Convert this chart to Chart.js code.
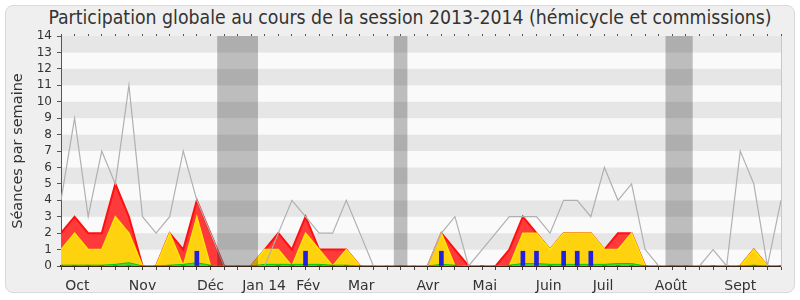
<!DOCTYPE html>
<html lang="fr">
<head>
<meta charset="utf-8">
<title>Participation globale 2013-2014</title>
<script src="https://cdn.jsdelivr.net/npm/chart.js@4.4.1/dist/chart.umd.min.js"></script>
<style>
  html, body { margin: 0; padding: 0; background: #fff; }
  #wrap { position: relative; width: 800px; height: 300px; overflow: hidden; }
  #cadre { position: absolute; left: 5px; top: 5px; width: 788px; height: 286px; border: 1px solid #d9d9d9; border-radius: 8px; background: #efefef; }
  #titre { position: absolute; left: 0; top: 7px; width: 820px; text-align: center; font-family: 'DejaVu Sans Condensed', 'DejaVu Sans', sans-serif; font-size: 19.3px; line-height: 22px; color: #333; white-space: nowrap; }
  canvas { position: absolute; left: 0; top: 0; }
</style>
</head>
<body>
<div id="wrap">
  <div id="cadre"></div>
  <div id="titre">Participation globale au cours de la session 2013-2014 (hémicycle et commissions)</div>
  <canvas id="graph" width="800" height="300"></canvas>
</div>
<script>
// Une valeur par semaine (54 semaines, d'octobre 2013 à septembre 2014)
const seancesTotal = [4, 9, 3, 7, 5, 11, 3, 2, 3, 7, 4, 2, 0, 0, 0, 0, 2, 4, 3, 2, 2, 4, 2, 0, 0, 0, 0, 0, 2, 3, 0, 1, 2, 3, 3, 3, 2, 4, 4, 3, 6, 4, 5, 1, 0, 0, 0, 0, 1, 0, 7, 5, 0, 4];
const presences = [2, 3, 2, 2, 5, 3, 0, 0, 2, 1, 4, 2, 0, 0, 0, 1, 2, 1, 3, 1, 1, 1, 0, 0, 0, 0, 0, 0, 2, 1, 0, 0, 0, 1, 3, 2, 1, 2, 2, 2, 1, 2, 2, 0, 0, 0, 0, 0, 0, 0, 0, 1, 0, 0];
const participations = [1, 2, 1, 1, 3, 2, 0, 0, 2, 0, 3, 0, 0, 0, 0, 1, 1, 0, 2, 1, 0, 1, 0, 0, 0, 0, 0, 0, 2, 0, 0, 0, 0, 0, 2, 2, 1, 2, 2, 2, 1, 1, 2, 0, 0, 0, 0, 0, 0, 0, 0, 1, 0, 0];
const interventions = [0.05, 0.05, 0.05, 0.05, 0.1, 0.2, 0, 0, 0.05, 0.1, 0.2, 0.05, 0, 0, 0, 0.1, 0.1, 0.1, 0.1, 0.1, 0.05, 0.05, 0, 0, 0, 0, 0, 0, 0.1, 0.05, 0, 0, 0, 0.05, 0.15, 0.15, 0.1, 0.1, 0.1, 0.1, 0.1, 0.15, 0.15, 0, 0, 0, 0, 0, 0, 0, 0, 0.05, 0, 0];
const questionsOrales = [0, 0, 0, 0, 0, 0, 0, 0, 0, 0, 0.9, 0, 0, 0, 0, 0, 0, 0, 0.9, 0, 0, 0, 0, 0, 0, 0, 0, 0, 0.9, 0, 0, 0, 0, 0, 0.9, 0.9, 0, 0.9, 0.9, 0.9, 0, 0, 0, 0, 0, 0, 0, 0, 0, 0, 0, 0, 0, 0];

// Vacances parlementaires (en semaines)
const vacances = [[11.5, 14.5], [24.5, 25.5], [44.5, 46.5]];

// Étiquettes des mois et leur position (en semaines)
const moisLabels = ['Oct', 'Nov', 'Déc', 'Jan 14', 'Fév', 'Mar', 'Avr', 'Mai', 'Juin', 'Juil', 'Août', 'Sept'];
const moisPos = [1.2, 6.0, 11.0, 14.95, 18.2, 22.1, 27.0, 31.2, 35.9, 39.9, 44.9, 50.0];

const derniereSemaine = seancesTotal.length - 1;
const toPoints = arr => arr.map((y, i) => ({ x: i, y: y }));

// Bandes horizontales alternées du fond
const fondBandes = {
    id: 'fondBandes',
    beforeDraw(chart) {
        const { ctx, chartArea: a, scales: { y } } = chart;
        ctx.save();
        for (let v = y.min; v < y.max; v++) {
            const y0 = y.getPixelForValue(v);
            const y1 = y.getPixelForValue(v + 1);
            ctx.fillStyle = v % 2 ? '#e6e6e6' : '#fafafa';
            ctx.fillRect(a.left, y1, a.right - a.left, y0 - y1);
        }
        ctx.restore();
    }
};

// Zones grisées des vacances, par-dessus les données
const zonesVacances = {
    id: 'zonesVacances',
    afterDatasetsDraw(chart) {
        const { ctx, chartArea: a, scales: { x } } = chart;
        ctx.save();
        ctx.fillStyle = 'rgba(0, 0, 0, 0.245)';
        vacances.forEach(([debut, fin]) => {
            const x0 = x.getPixelForValue(debut);
            const x1 = x.getPixelForValue(fin);
            ctx.fillRect(x0, a.top, x1 - x0, a.bottom - a.top);
        });
        ctx.restore();
    }
};

const ctx = document.getElementById('graph').getContext('2d');
Chart.defaults.font.family = "'DejaVu Sans', sans-serif";

new Chart(ctx, {
    type: 'line',
    data: {
        datasets: [
            {
                label: 'Séances',
                data: toPoints(seancesTotal),
                borderColor: '#b0b0b0',
                borderWidth: 1.2,
                fill: false,
                pointRadius: 0,
                tension: 0,
                order: 0
            },
            {
                type: 'bar',
                label: 'Questions orales',
                data: toPoints(questionsOrales),
                backgroundColor: '#2020dd',
                borderWidth: 0,
                barThickness: 4,
                order: 1
            },
            {
                label: 'Interventions',
                data: toPoints(interventions),
                borderColor: '#00cc00',
                backgroundColor: '#33dd33',
                borderWidth: 1,
                fill: 'origin',
                pointRadius: 0,
                tension: 0,
                order: 2
            },
            {
                label: 'Participations',
                data: toPoints(participations),
                borderColor: '#ffe600',
                backgroundColor: '#ffd20f',
                borderWidth: 1.5,
                fill: 'origin',
                pointRadius: 0,
                tension: 0,
                order: 3
            },
            {
                label: 'Présences',
                data: toPoints(presences),
                borderColor: '#ff1010',
                backgroundColor: '#ff3a3a',
                borderWidth: 2,
                fill: 'origin',
                pointRadius: 0,
                tension: 0,
                order: 4
            }
        ]
    },
    options: {
        responsive: false,
        animation: false,
        layout: { padding: { top: 34, left: 0, right: 0, bottom: 0 } },
        plugins: {
            legend: { display: false },
            title: { display: false },
            tooltip: { enabled: false }
        },
        scales: {
            x: {
                type: 'linear',
                position: 'bottom',
                min: 0,
                max: derniereSemaine,
                offset: false,
                z: 1,
                ticks: { display: false, stepSize: 1 },
                grid: { offset: false, drawOnChartArea: false, tickLength: 4, color: '#444' },
                border: { color: '#3a2418', width: 2 },
                afterFit: s => { s.height = 4; }
            },
            mois: {
                type: 'linear',
                position: 'bottom',
                min: 0,
                max: derniereSemaine,
                offset: false,
                afterBuildTicks: s => { s.ticks = moisPos.map(v => ({ value: v })); },
                ticks: {
                    callback: (v, i) => moisLabels[i],
                    autoSkip: false,
                    maxRotation: 0,
                    padding: 0,
                    color: '#333',
                    font: { size: 14 }
                },
                grid: { display: false },
                border: { display: false },
                afterFit: s => { s.height = 30; }
            },
            haut: {
                type: 'linear',
                position: 'top',
                min: 0,
                max: derniereSemaine,
                offset: false,
                ticks: { display: false, stepSize: 1 },
                grid: { drawOnChartArea: false, tickLength: 2, color: '#555' },
                border: { display: false },
                afterFit: s => { s.height = 2; }
            },
            y: {
                type: 'linear',
                position: 'left',
                min: 0,
                max: 14,
                ticks: { stepSize: 1, autoSkip: false, padding: 5, color: '#333', font: { size: 12 } },
                grid: { drawOnChartArea: false, tickLength: 4, color: '#555' },
                border: { color: '#555' },
                title: {
                    display: true,
                    text: 'Séances par semaine',
                    color: '#333',
                    font: { size: 14.5 },
                    padding: { top: 10, bottom: 0 }
                },
                afterFit: s => { s.width = 61; }
            },
            droite: {
                type: 'linear',
                position: 'right',
                min: 0,
                max: 14,
                ticks: { display: false },
                grid: { display: false },
                border: { color: '#c8c8c8' },
                afterFit: s => { s.width = 19; }
            }
        }
    },
    plugins: [fondBandes, zonesVacances]
});
</script>
</body>
</html>
